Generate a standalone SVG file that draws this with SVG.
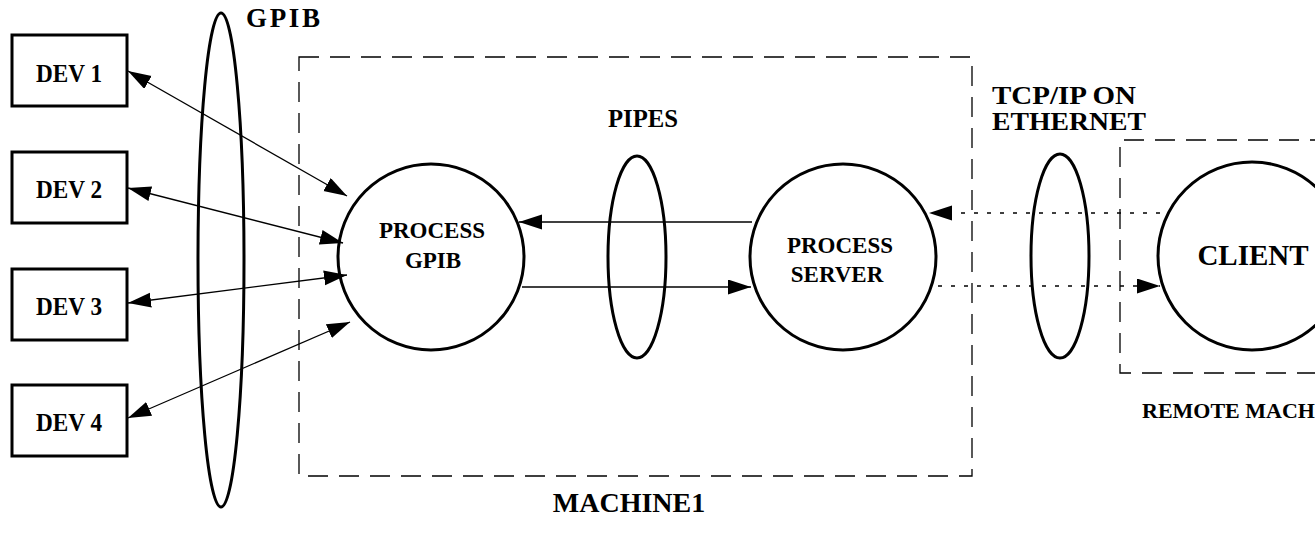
<svg xmlns="http://www.w3.org/2000/svg" width="1315" height="538" viewBox="0 0 1315 538">
  <style>
    text { font-family: "Liberation Serif", "Times New Roman", serif; font-weight: bold; fill: #000; }
    .box { fill: #fff; stroke: #000; stroke-width: 3; }
    .proc { fill: #fff; stroke: #000; stroke-width: 3; }
    .bus { fill: none; stroke: #000; stroke-width: 3; }
    .frame { fill: none; stroke: #000; stroke-width: 1.3; stroke-dasharray: 20 11; }
    .link { fill: none; stroke: #000; stroke-width: 1.3; }
    .net { fill: none; stroke: #000; stroke-width: 1.3; stroke-dasharray: 4 9; }
  </style>
  <defs>
    <marker id="head" markerUnits="userSpaceOnUse" markerWidth="24" markerHeight="16" refX="23" refY="7.5" orient="auto-start-reverse">
      <path d="M0,0 L23,7.5 L0,15 z" fill="#000"/>
    </marker>
  </defs>
  <rect width="1315" height="538" fill="#fff"/>

  <!-- machine boundaries -->
  <g id="machine1">
    <rect class="frame" x="299" y="57" width="673" height="419"/>
    <text x="629" y="512" font-size="28" text-anchor="middle">MACHINE1</text>
  </g>
  <g id="remote-machine">
    <path class="frame" d="M1330,140 H1120 V373 H1330" stroke-dasharray="25 12"/>
    <text x="1142" y="418" font-size="22">REMOTE MACHINE</text>
  </g>

  <!-- buses -->
  <g id="gpib-bus">
    <ellipse class="bus" cx="221" cy="260" rx="23" ry="247"/>
    <text x="246" y="27" font-size="27" textLength="74" lengthAdjust="spacing">GPIB</text>
  </g>
  <g id="pipes">
    <ellipse class="bus" cx="637" cy="257" rx="29" ry="101"/>
    <text x="643" y="127" font-size="26" text-anchor="middle" textLength="70" lengthAdjust="spacingAndGlyphs">PIPES</text>
  </g>
  <g id="tcpip">
    <ellipse class="bus" cx="1060" cy="256" rx="29" ry="102"/>
    <text x="992" y="104" font-size="25" textLength="144" lengthAdjust="spacingAndGlyphs">TCP/IP  ON</text>
    <text x="992" y="130" font-size="25" textLength="154" lengthAdjust="spacingAndGlyphs">ETHERNET</text>
  </g>

  <!-- devices -->
  <g id="dev1">
    <rect class="box" x="12" y="35" width="115" height="71"/>
    <text x="69" y="82" font-size="25" text-anchor="middle" textLength="66" lengthAdjust="spacingAndGlyphs">DEV 1</text>
  </g>
  <g id="dev2">
    <rect class="box" x="12" y="152" width="115" height="71"/>
    <text x="69" y="198" font-size="25" text-anchor="middle" textLength="66" lengthAdjust="spacingAndGlyphs">DEV 2</text>
  </g>
  <g id="dev3">
    <rect class="box" x="12" y="269" width="115" height="71"/>
    <text x="69" y="315" font-size="25" text-anchor="middle" textLength="66" lengthAdjust="spacingAndGlyphs">DEV 3</text>
  </g>
  <g id="dev4">
    <rect class="box" x="12" y="385" width="115" height="71"/>
    <text x="69" y="431" font-size="25" text-anchor="middle" textLength="66" lengthAdjust="spacingAndGlyphs">DEV 4</text>
  </g>

  <!-- processes -->
  <g id="process-gpib">
    <circle class="proc" cx="431" cy="257" r="93"/>
    <text x="432" y="238" font-size="23" text-anchor="middle">PROCESS</text>
    <text x="433" y="268" font-size="23" text-anchor="middle">GPIB</text>
  </g>
  <g id="process-server">
    <circle class="proc" cx="843" cy="257" r="93"/>
    <text x="840" y="253" font-size="23" text-anchor="middle">PROCESS</text>
    <text x="837" y="282" font-size="23" text-anchor="middle">SERVER</text>
  </g>
  <g id="client">
    <circle class="proc" cx="1252" cy="256" r="94"/>
    <text x="1253" y="265" font-size="29" text-anchor="middle">CLIENT</text>
  </g>

  <!-- connectors -->
  <g id="connectors">
    <line class="link" x1="128" y1="71" x2="347" y2="196" marker-start="url(#head)" marker-end="url(#head)"/>
    <line class="link" x1="128" y1="188" x2="343" y2="243" marker-start="url(#head)" marker-end="url(#head)"/>
    <line class="link" x1="128" y1="303" x2="347" y2="275" marker-start="url(#head)" marker-end="url(#head)"/>
    <line class="link" x1="128" y1="418" x2="350" y2="322" marker-start="url(#head)" marker-end="url(#head)"/>
    <line class="link" x1="752" y1="222" x2="519" y2="222" marker-end="url(#head)"/>
    <line class="link" x1="522" y1="287" x2="751" y2="287" marker-end="url(#head)"/>
    <line class="net" x1="1160" y1="213" x2="929" y2="213" marker-end="url(#head)"/>
    <line class="net" x1="938" y1="286" x2="1160" y2="286" marker-end="url(#head)"/>
  </g>
</svg>
